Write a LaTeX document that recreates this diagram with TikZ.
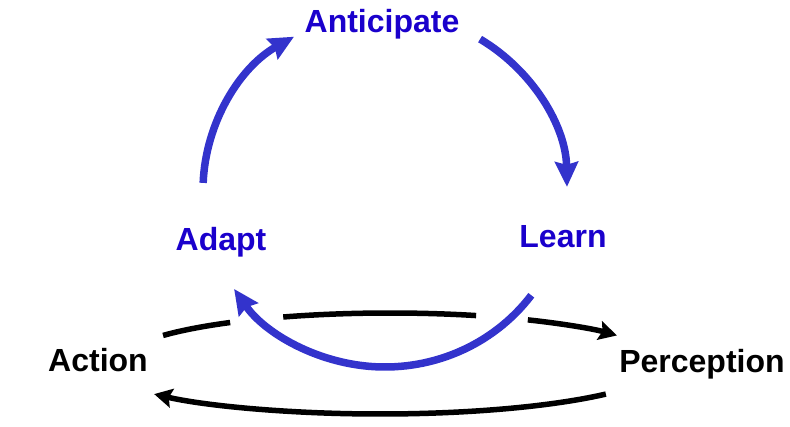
\documentclass[tikz,border=0pt]{standalone}
\usepackage{fontspec}
\setmainfont{Liberation Sans}
\usetikzlibrary{arrows.meta}
\definecolor{arcblue}{RGB}{51,51,204}
\definecolor{txtblue}{RGB}{26,0,204}
\begin{document}
\begin{tikzpicture}[x=1pt,y=1pt,
  lbl/.style={font=\fontsize{32}{38}\selectfont\bfseries, inner sep=0pt, anchor=base},
  bluelbl/.style={lbl, text=txtblue},
  bluearc/.style={draw=arcblue, line width=7.5pt, -{Stealth[length=25pt,width=23pt,inset=3pt]}},
  blackarc/.style={draw=black, line width=5.5pt},
  blacktip/.style={-{Stealth[length=18pt,width=19pt,inset=3pt]}}]
\useasboundingbox (0,0) rectangle (790,426);
% labels
\node[bluelbl] (anticipate) at (382,393) {Anticipate};
\node[bluelbl] (adapt) at (221,175) {Adapt};
\node[bluelbl] (learn) at (563,178) {Learn};
\node[lbl] (action) at (98,55) {Action};
\node[lbl] (perception) at (702,53) {Perception};
% centres of the arcs
\coordinate (ctr) at (385,236);
\coordinate (tctr) at (390,64);
\coordinate (bctr) at (380,64);
% blue cycle
\draw[bluearc] ([shift={(177.7:182pt and 177pt)}]ctr) arc[start angle=177.7, end angle=120, x radius=182pt, y radius=177pt];
\draw[bluearc] ([shift={(58.5:182pt and 177pt)}]ctr) arc[start angle=58.5, end angle=1, x radius=182pt, y radius=177pt];
\draw[bluearc] ([shift={(-36.5:182pt and 177pt)}]ctr) arc[start angle=-36.5, end angle=-146, x radius=182pt, y radius=177pt];
% black loop Action -> Perception (broken where the blue arc crosses)
\draw[blackarc] ([shift={(147.2:270pt and 49pt)}]tctr) arc[start angle=147.2, end angle=126.3, x radius=270pt, y radius=49pt];
\draw[blackarc] ([shift={(113.3:270pt and 49pt)}]tctr) arc[start angle=113.3, end angle=71.4, x radius=270pt, y radius=49pt];
\draw[blackarc,blacktip] ([shift={(59.3:270pt and 49pt)}]tctr) arc[start angle=59.3, end angle=32.8, x radius=270pt, y radius=49pt];
% black loop Perception -> Action
\draw[blackarc,blacktip] ([shift={(-38.1:287pt and 52pt)}]bctr) arc[start angle=-38.1, end angle=-141.9, x radius=287pt, y radius=52pt];
\end{tikzpicture}
\end{document}
